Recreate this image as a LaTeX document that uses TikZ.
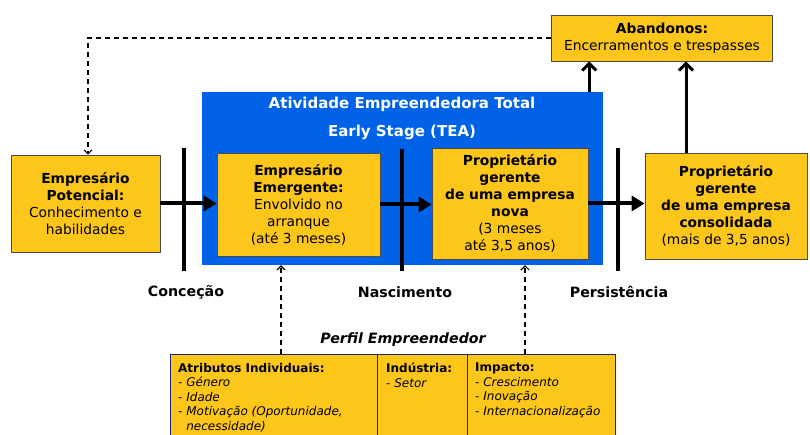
\documentclass[tikz,border=0pt]{standalone}
\usepackage{fontspec}
\setmainfont{DejaVu Sans}
\usepackage{tikz}
\usetikzlibrary{arrows.meta, positioning}
\definecolor{stageyellow}{RGB}{253,198,26}
\definecolor{teablue}{RGB}{0,98,230}
\definecolor{tablenavy}{RGB}{32,32,120}

\begin{document}
\begin{tikzpicture}[
    x=1pt, y=-1pt,
    stage/.style={rectangle, draw=black!70, fill=stageyellow, line width=0.8pt, inner sep=0pt, text centered, align=center, font=\fontsize{13.8}{17}\selectfont},
    teabox/.style={rectangle, fill=teablue, inner sep=0pt, minimum width=401pt, minimum height=173pt},
    teatitle/.style={text=white, font=\bfseries\fontsize{15}{18}\selectfont},
    milestone/.style={font=\bfseries\fontsize{14.2}{17}\selectfont},
    profilebox/.style={rectangle, draw=tablenavy, fill=stageyellow, line width=1.2pt, anchor=north west, minimum height=91pt, inner sep=0pt},
    profiletext/.style={anchor=north west, align=left, inner sep=0pt, font=\fontsize{12}{14.5}\selectfont},
    bar/.style={line width=4pt},
    flow/.style={line width=4pt, -{Triangle[length=13pt, width=15pt]}},
    exitarrow/.style={line width=3pt, -{Straight Barb[length=7pt, width=14pt]}},
    feedback/.style={line width=1.1pt, dash pattern=on 5pt off 4pt, -{Straight Barb[length=4pt, width=8pt]}}
]
\useasboundingbox (0,0) rectangle (810,435);
\clip (0,0) rectangle (810,435);

% TEA area
\node[teabox] (tea) at (402.5,178.5) {};
\node[teatitle] (teatop) at (402,104) {Atividade Empreendedora Total};
\node[teatitle] (teabottom) at (402,132) {Early Stage (TEA)};

% Stages
\node[stage, minimum width=149pt, minimum height=97pt] (potencial) at (85.5,203.5) {\textbf{Empresário}\\\textbf{Potencial:}\\Conhecimento e\\habilidades};
\node[stage, minimum width=163pt, minimum height=103pt] (emergente) at (298.5,204.5) {\textbf{Empresário}\\\textbf{Emergente:}\\Envolvido no\\arranque\\(até 3 meses)};
\node[stage, minimum width=156pt, minimum height=111pt] (nova) at (510,203.5) {\textbf{Proprietário}\\\textbf{gerente}\\\textbf{de uma empresa}\\\textbf{nova}\\(3 meses\\até 3,5 anos)};
\node[stage, minimum width=162pt, minimum height=106pt] (consolidada) at (726,206) {\textbf{Proprietário}\\\textbf{gerente}\\\textbf{de uma empresa}\\\textbf{consolidada}\\(mais de 3,5 anos)};
\node[stage, minimum width=221pt, minimum height=46pt] (abandonos) at (662,38) {\textbf{Abandonos:}\\Encerramentos e trespasses};

% Milestones
\draw[bar] (184,148) -- (184,271);
\draw[bar] (402,149) -- (402,271);
\draw[bar] (618,148) -- (618,271);
\node[milestone] (concecao) at (186,292) {Conceção};
\node[milestone] (nascimento) at (405,292) {Nascimento};
\node[milestone] (persistencia) at (619,292) {Persistência};

% Entrepreneurial profile
\node[font=\bfseries\itshape\fontsize{14.2}{17}\selectfont] (perfil) at (403,340) {Perfil Empreendedor};
\node[profilebox, minimum width=207pt] (attrbox) at (170,354) {};
\node[profilebox, minimum width=90pt] (indbox) at (377,354) {};
\node[profilebox, minimum width=148pt] (impbox) at (467,354) {};
\node[profiletext] (attrtext) at ([xshift=8pt, yshift=-9pt]attrbox.north west) {\textbf{Atributos Individuais:}\\- \textit{Género}\\- \textit{Idade}\\- \textit{Motivação (Oportunidade,}\\\phantom{- }\textit{necessidade)}};
\node[profiletext] (indtext) at ([xshift=9pt, yshift=-9pt]indbox.north west) {\textbf{Indústria:}\\- \textit{Setor}};
\node[profiletext] (imptext) at ([xshift=8pt, yshift=-9pt]impbox.north west) {\textbf{Impacto:}\\- \textit{Crescimento}\\- \textit{Inovação}\\- \textit{Internacionalização}};

% Connectors
\draw[flow] (potencial.east) -- (potencial.east -| emergente.west);
\draw[flow] (emergente.east) -- (emergente.east -| nova.west);
\draw[flow] (nova.east) -- (nova.east -| consolidada.west);
\draw[exitarrow] ([xshift=-14pt]tea.north east) -- ([xshift=-14pt]tea.north east |- abandonos.south);
\draw[exitarrow] ([xshift=-40pt]consolidada.north) -- ([xshift=-40pt]consolidada.north |- abandonos.south);
\draw[feedback] (abandonos.west) -| ([xshift=2.5pt]potencial.north);
\draw[feedback] ([xshift=111pt]attrbox.north west) -- ([xshift=111pt]attrbox.north west |- tea.south);
\draw[feedback] ([xshift=58pt]impbox.north west) -- ([xshift=58pt]impbox.north west |- tea.south);

\end{tikzpicture}
\end{document}
